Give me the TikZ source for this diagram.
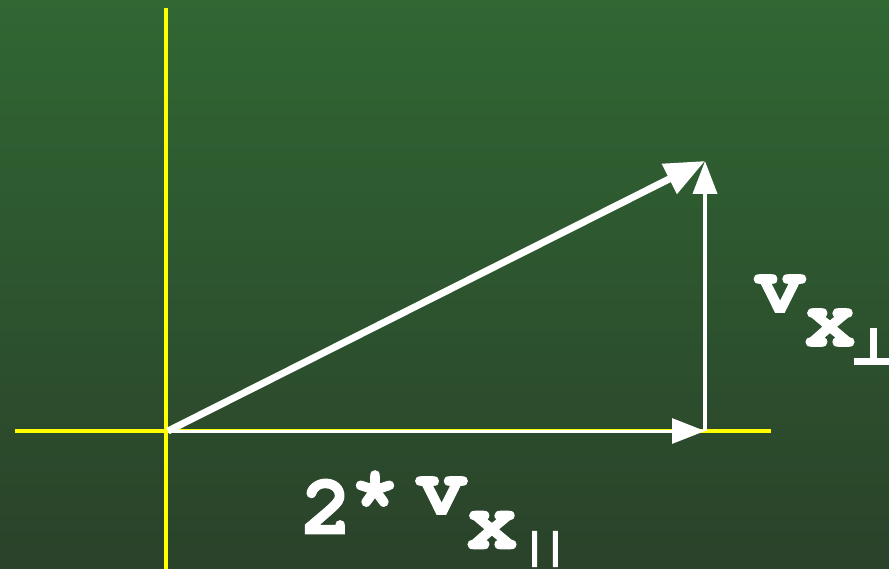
\documentclass[tikz,border=0pt]{standalone}
\usepackage{fontspec}
\newfontfamily\courfont[BoldFeatures={FakeBold=1.2}]{TeX Gyre Cursor}
\newfontfamily\symfont[UprightFont={* Bold}, FakeBold=3]{DejaVu Sans}
\usetikzlibrary{arrows.meta}
\definecolor{bgtop}{RGB}{48,103,51}
\definecolor{bgbot}{RGB}{42,66,42}
\definecolor{axisyellow}{RGB}{255,255,0}
\tikzset{
  axis/.style={draw=axisyellow, line width=4.5pt},
  vec/.style={draw=white, line width=#1},
  glyph/.style={text=white, inner sep=0pt, outer sep=0pt, anchor=center, font=\fontsize{86}{86}\selectfont\courfont\bfseries},
  symglyph/.style={text=white, inner sep=0pt, outer sep=0pt, anchor=center},
}
\begin{document}
\begin{tikzpicture}[x=1pt, y=-1pt]
\useasboundingbox (0,0) rectangle (889,569);
\shade[top color=bgtop, bottom color=bgbot] (0,0) rectangle (889,569);
% axes
\coordinate (ytop) at (166,8);
\coordinate (ybot) at (166,569);
\coordinate (xl) at (15,431);
\coordinate (xr) at (771,431);
\draw[axis] (ytop) -- (ybot);
\draw[axis, line width=4pt] (xl) -- (xr);
% vectors
\coordinate (O) at (168,431);
\coordinate (A) at (705,161);
\coordinate (B) at (705,431);
\draw[vec=3pt, -{Triangle[length=33pt, width=25pt]}] (O) -- (B);
\draw[vec=4pt, -{Triangle[length=33pt, width=24pt]}] (B) -- (A);
\draw[vec=7pt, -{Triangle[length=40pt, width=32pt]}] (O) -- (A);
% labels
\node[glyph] (rv) at (780,293.5) {v};
\node[glyph] (rx) at (830,327.5) {x};
\node[symglyph, font=\fontsize{50}{50}\selectfont\symfont] (rperp) at (873.5,346.5) {⊥};
\node[glyph] (b2) at (326.5,506.5) {2};
\node[glyph] (bstar) at (375,497.5) {*};
\node[glyph] (bv) at (441.5,495.5) {v};
\node[glyph] (bx) at (492,530) {x};
\node[symglyph, font=\fontsize{35}{35}\selectfont\symfont] (bpar) at (545,549) {|\kern8pt|};
\end{tikzpicture}
\end{document}
